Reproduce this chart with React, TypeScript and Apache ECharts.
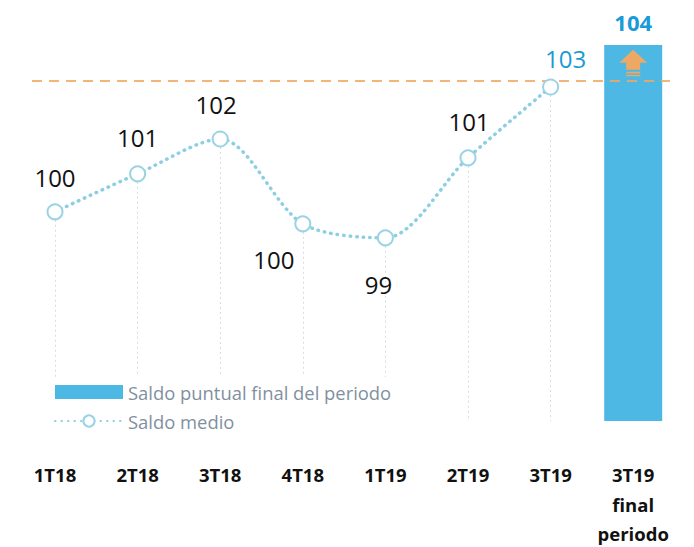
import React, { useEffect, useRef } from "react";
import * as echarts from "echarts";

const categories = ["1T18", "2T18", "3T18", "4T18", "1T19", "2T19", "3T19", "3T19\nfinal\nperiodo"];
const saldoMedio = [99.83, 100.78, 101.65, 99.53, 99.18, 101.18, 102.95, null];
const saldoMedioLabels = ["100", "101", "102", "100", "99", "101", "103"];
const saldoPuntual = [null, null, null, null, null, null, null, 104];
const referenceLevel = 103.1;
const dropEnds = [95.7, 95.7, 95.7, 95.7, 95.7, 94.6, 94.6];
const arrowLevel = 103.55;

const labelOffsets: number[][] = [
  [0, -34], [0, -36], [-4, -35], [-29, 36], [-7, 47], [1, -36], [15, -29],
];

const ARROW =
  "path://M14 0 L28 13 L21 13 L21 20 L7 20 L7 13 L0 13 Z M7 22 L21 22 L21 23.6 L7 23.6 Z M7 25 L21 25 L21 26.4 L7 26.4 Z";

export default function App() {
  const ref = useRef<HTMLDivElement>(null);
  useEffect(() => {
    if (!ref.current) return;
    const chart = echarts.init(ref.current, null, { renderer: "svg" });
    const font = "'Open Sans', sans-serif";
    chart.setOption({
      animation: false,
      textStyle: { fontFamily: font },
      grid: { left: 13.7, right: 19.5, top: 25, bottom: 126, containLabel: false, outerBoundsMode: "none" },
      legend: {
        orient: "vertical",
        left: 49,
        top: 378,
        itemGap: 11,
        itemWidth: 68,
        itemHeight: 14,
        textStyle: { color: "#7f90a0", fontSize: 18.4, fontFamily: font },
        data: [
          { name: "Saldo puntual final del periodo", icon: "rect" },
          { name: "Saldo medio" },
        ],
      },
      xAxis: {
        type: "category",
        data: categories,
        axisLine: { show: false },
        axisTick: { show: false },
        axisLabel: {
          interval: 0,
          color: "#111",
          fontWeight: "bold",
          fontSize: 18.5,
          margin: 39,
          lineHeight: 29.5,
          verticalAlign: "top",
          fontFamily: font,
        },
      },
      yAxis: {
        type: "value",
        min: 94.6,
        max: 104.5,
        show: false,
        splitLine: { show: false },
      },
      series: [
        {
          name: "Saldo puntual final del periodo",
          type: "bar",
          data: saldoPuntual,
          barWidth: 58,
          itemStyle: { color: "#4cb8e3" },
          label: {
            show: true,
            position: "top",
            distance: 12,
            color: "#1a9ad6",
            fontWeight: "bold",
            fontSize: 22,
            fontFamily: font,
          },
          markPoint: {
            symbol: ARROW,
            symbolSize: [28, 26.4],
            label: { show: false },
            itemStyle: { color: "#eea865" },
            data: [{ coord: [7, arrowLevel] }],
          },
          z: 2,
        },
        {
          name: "Saldo medio",
          type: "line",
          data: saldoMedio.map((v, i) =>
            v === null
              ? null
              : {
                  value: v,
                  label: {
                    show: true,
                    position: "inside",
                    offset: labelOffsets[i],
                    formatter: saldoMedioLabels[i],
                    color: i === 6 ? "#1a9ad6" : "#111",
                    fontSize: 24,
                    fontFamily: font,
                  },
                }
          ),
          smooth: 0.3,
          showSymbol: true,
          symbol: "emptyCircle",
          symbolSize: 15,
          lineStyle: { color: "#8ccfe2", width: 3.5, type: [0.5, 6], cap: "round" },
          itemStyle: { color: "#9ad3e5", borderWidth: 2 },
          z: 5,
          markLine: {
            silent: true,
            symbol: "none",
            label: { show: false },
            lineStyle: { color: "#d8dde1", width: 1, type: [2, 3] },
            data: saldoMedio
              .map((v, i) =>
                v === null
                  ? null
                  : [
                      { coord: [i, v - 0.2] },
                      { coord: [i, dropEnds[i]] },
                    ]
              )
              .filter((d) => d !== null),
            z: 1,
          },
        },
        {
          name: "ref",
          type: "line",
          data: [],
          z: 4,
          markLine: {
            silent: true,
            symbol: "none",
            label: { show: false },
            lineStyle: { color: "#eea865", width: 2, type: [10, 7], opacity: 0.85 },
            data: [[{ x: 32, yAxis: referenceLevel }, { x: 670, yAxis: referenceLevel }]],
          },
        },
      ],
    });
    return () => chart.dispose();
  }, []);
  return (
    <div
      ref={ref}
      style={{ position: "fixed", left: 0, top: 0, width: 694, height: 547, background: "#fff" }}
    />
  );
}
